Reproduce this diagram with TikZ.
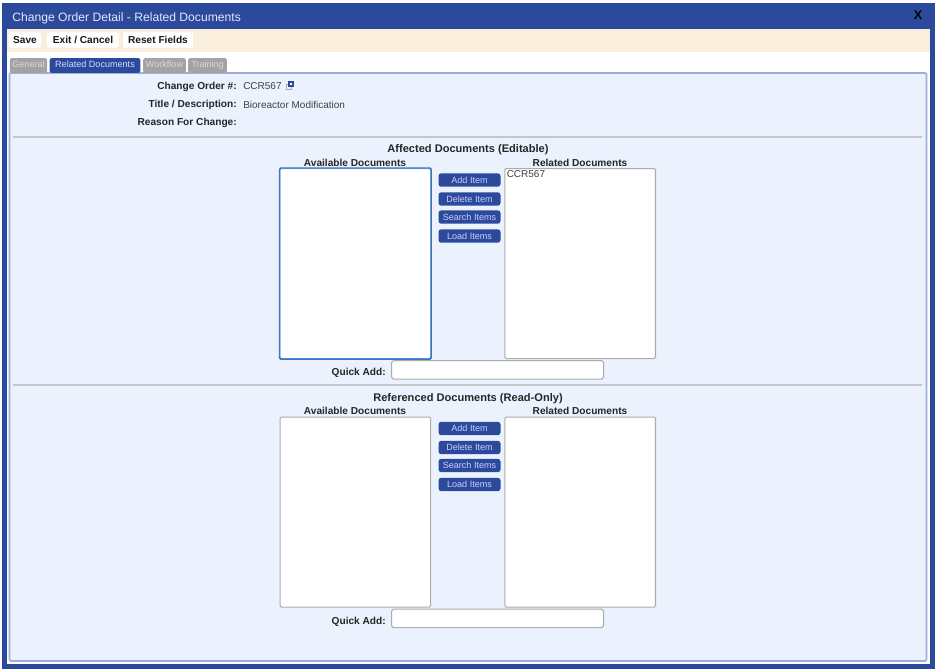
\documentclass[tikz,border=0pt]{standalone}
\usepackage{fontspec}
\setmainfont{Liberation Sans}
\usetikzlibrary{positioning}
\definecolor{framebg}{HTML}{2B4A9B}
\definecolor{panelbg}{HTML}{EBF2FE}
\definecolor{panelln}{HTML}{9DAFD8}
\definecolor{creambg}{HTML}{FAEEDD}
\definecolor{tabgrey}{HTML}{A3A3A3}
\definecolor{boxln}{HTML}{ABABAB}
\definecolor{focusln}{HTML}{2F78D6}
\definecolor{ruleln}{HTML}{C4C6CA}
\tikzset{
    lbl/.style={font=\fontsize{7.6}{9}\selectfont\bfseries, inner sep=0pt, text=black!85},
    val/.style={font=\fontsize{7.5}{9}\selectfont, inner sep=0pt, text=black!75},
    heading/.style={font=\fontsize{8.3}{10}\selectfont\bfseries, inner sep=0pt, text=black!85},
    toolbtn/.style={font=\fontsize{7.6}{9}\selectfont\bfseries, fill=white, rounded corners=1.5pt, inner sep=0pt, minimum height=11.5pt, text=black!90},
    tabbox/.style={font=\fontsize{6.8}{8}\selectfont, fill=tabgrey, text=white!85!black, rounded corners=1.5pt, inner sep=0pt, text height=7pt, text depth=4pt},
    listbox/.style={draw=boxln, line width=0.8pt, fill=white, rounded corners=1pt, minimum width=113pt, minimum height=142.5pt, anchor=north west, inner sep=0pt},
    addbox/.style={draw=boxln, line width=0.8pt, fill=white, rounded corners=2pt, minimum width=159pt, minimum height=14pt, anchor=north west, inner sep=0pt},
    itembtn/.style={font=\fontsize{6.8}{8}\selectfont, fill=framebg, text=white!80!blue, rounded corners=2pt, minimum width=46.5pt, minimum height=10pt, inner sep=0pt},
    rulerln/.style={draw=ruleln, line width=0.8pt}
}
% one block of lists, prefix #1, vertical shift #2, heading #3
\def\DocGroup#1#2#3{
    \node[heading] (#1head) at (468,#2-18) {#3};
    \node[lbl] (#1availt) at (355,#2-5.5) {Available Documents};
    \node[lbl] (#1relt) at (580,#2-5.5) {Related Documents};
    \node[listbox] (#1avail) at (279.5,#2) {};
    \node[listbox] (#1rel) at (504.3,#2) {};
    \foreach \y/\name/\txt in {12/add/Add Item,31/del/Delete Item,49/srch/Search Items,68/load/Load Items}
        \node[itembtn] (#1\name) at (469.5,#2+\y) {\txt};
    \node[lbl, anchor=east] (#1qlbl) at (386,#2+205) {Quick Add:};
    \node[addbox] (#1quick) at (391,#2+192) {};
}
\begin{document}
\begin{tikzpicture}[x=0.75pt,y=-0.75pt]
    \useasboundingbox (0,0) rectangle (935,669);
    \fill[white] (0,0) rectangle (935,669);
    \fill[framebg] (2,3) rectangle (935,669);
    \fill[creambg] (7,29) rectangle (930,52);
    \fill[white] (7,52) rectangle (930,664);
    \draw[panelln, fill=panelbg, line width=1.2pt, rounded corners=1pt] (9.5,73) rectangle (926.5,661);
    \node[font=\fontsize{9.1}{11}\selectfont, text=white!90!blue, inner sep=0pt, anchor=west] (title) at (12,18) {Change Order Detail - Related Documents};
    \node[font=\fontsize{9.5}{10}\selectfont\bfseries, text=black, inner sep=0pt] (closex) at (918,15.5) {X};

    % toolbar
    \node[toolbtn, minimum width=24pt] (save) at (25,40) {Save};
    \node[toolbtn, minimum width=54pt] (exit) at (83,40) {Exit / Cancel};
    \node[toolbtn, minimum width=52.5pt] (reset) at (158,40) {Reset Fields};

    % tabs
    \node[tabbox, minimum width=28pt] (tabgen) at (28.5,65.5) {General};
    \node[tabbox, fill=framebg, text=white!85!blue, minimum width=68pt] (tabrel) at (95,65.5) {Related Documents};
    \node[tabbox, minimum width=32pt] (tabwork) at (164.5,65.5) {Workflow};
    \node[tabbox, minimum width=29pt] (tabtrain) at (207.5,65.5) {Training};

    % order fields
    \node[lbl, anchor=east] (numl) at (237,86.5) {Change Order \#:};
    \node[val, anchor=west] (numv) at (243,86.5) {CCR567};
    \node[draw=boxln, line width=0.5pt, inner sep=0pt, minimum size=3.5pt] (numb) at (288.5,86.5) {};
    \node[draw=framebg, line width=1pt, fill=white, inner sep=0pt, minimum size=3.2pt] (numi) at (291,84) {};
    \node[lbl, anchor=east] (titl) at (237,104.5) {Title / Description:};
    \node[val, anchor=west] (titv) at (243,104.5) {Bioreactor Modification};
    \node[lbl, anchor=east] (reasl) at (237,123) {Reason For Change:};

    \draw[rulerln] (13,137) -- (922,137);
    \draw[rulerln] (13,385) -- (922,385);

    \DocGroup{aff}{168}{Affected Documents (Editable)}
    \DocGroup{ref}{416.5}{Referenced Documents (Read-Only)}

    \draw[focusln, line width=1.1pt, rounded corners=1pt] (affavail.north west) rectangle (affavail.south east);
    \node[val, anchor=north west] (affitem) at (506.5,170.5) {CCR567};
\end{tikzpicture}
\end{document}
